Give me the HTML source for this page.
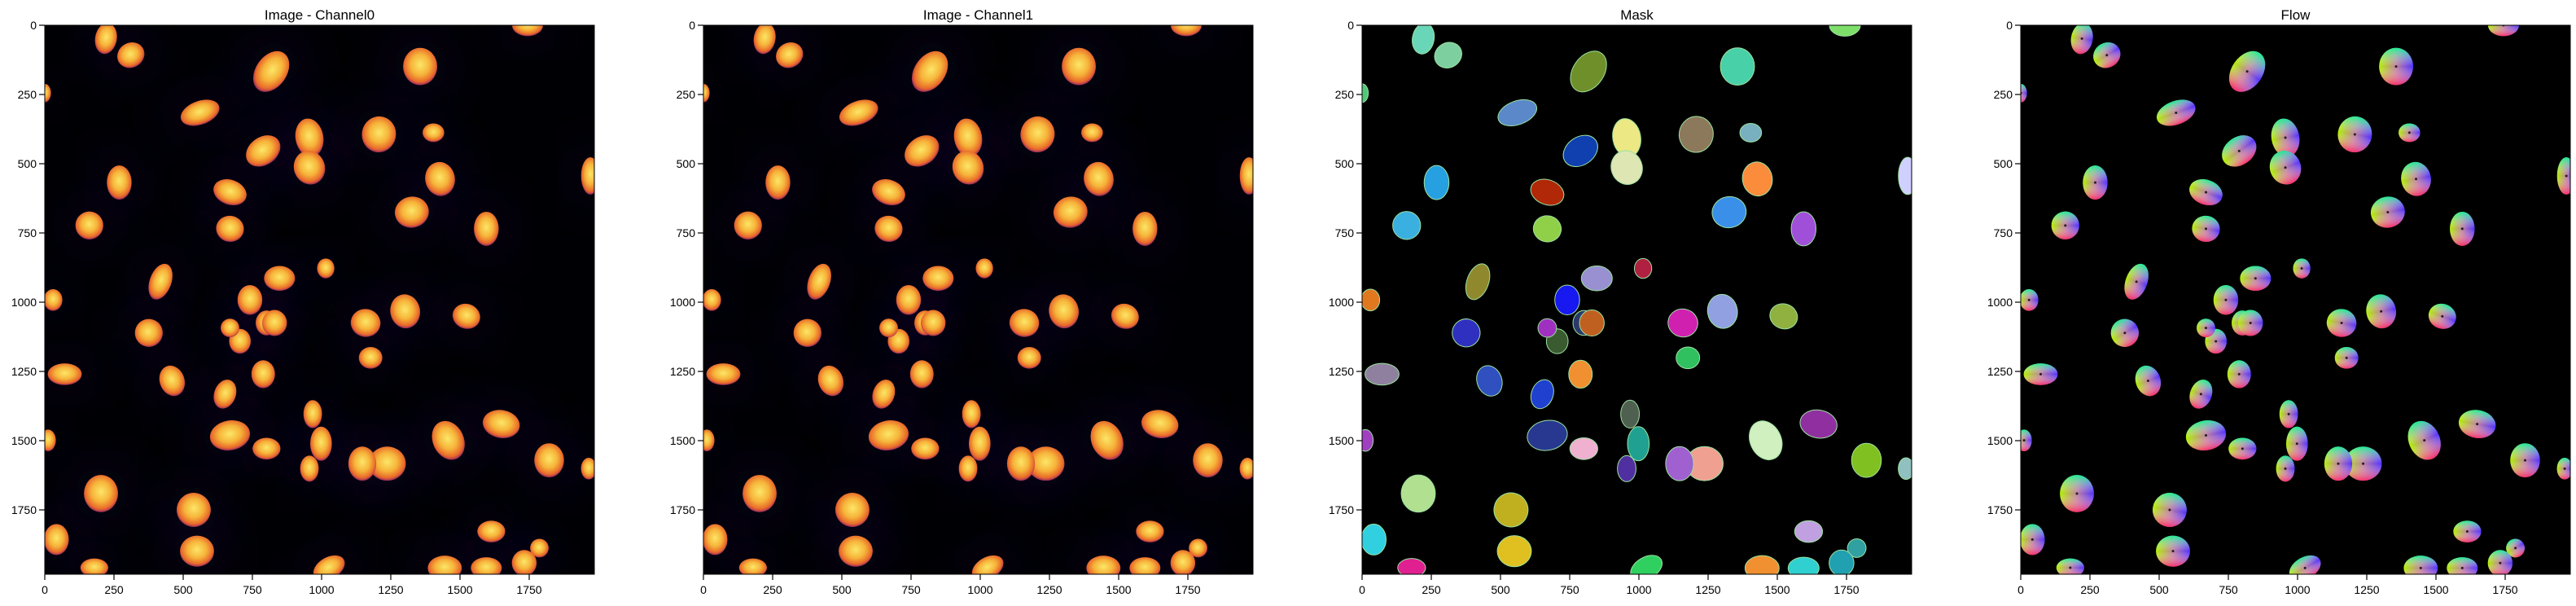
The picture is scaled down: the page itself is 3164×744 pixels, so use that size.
<!DOCTYPE html>
<html><head><meta charset="utf-8"><style>
html,body{margin:0;padding:0;background:#fff;}
body{width:3164px;height:739px;position:relative;overflow:hidden;font-family:"Liberation Sans","DejaVu Sans",sans-serif;}
</style></head><body>
<svg id="fig" width="3164" height="739" xmlns="http://www.w3.org/2000/svg">
<defs>
<radialGradient id="nuc" cx="50%" cy="45%" r="55%">
<stop offset="0" stop-color="#fce667"/><stop offset="0.5" stop-color="#f6b43a"/><stop offset="0.85" stop-color="#e8682a"/><stop offset="1" stop-color="#9a2a62"/>
</radialGradient>
<linearGradient id="flowA" x1="0" y1="0" x2="1" y2="0">
<stop offset="0" stop-color="#b0f000"/><stop offset="0.5" stop-color="#c080a0"/><stop offset="1" stop-color="#5030ff"/>
</linearGradient>
<linearGradient id="flowB" x1="0" y1="0" x2="0" y2="1">
<stop offset="0" stop-color="#00ff90"/><stop offset="0.5" stop-color="#ffffff" stop-opacity="0"/><stop offset="1" stop-color="#ff2060"/>
</linearGradient>
<filter id="blur" x="-50%" y="-50%" width="200%" height="200%"><feGaussianBlur stdDeviation="30"/></filter>
</defs>
</svg>
<script>
const titles = ["Image - Channel0","Image - Channel1","Mask","Flow"];
const tickVals = [0,250,500,750,1000,1250,1500,1750];
const cx = [221,311,818,1356,1744,561,0,789,956,956,1207,1404,1971,269,669,1428,1326,669,161,1595,418,848,1015,741,801,30,705,669,830,1159,1302,1523,376,1177,789,72,460,651,968,1649,669,801,998,1458,1237,1147,956,1822,1965,12,203,538,42,550,179,1613,1787,1732,1595,1027,1445];
const cy = [48,108,167,149,0,316,245,454,406,514,394,388,544,568,603,555,675,735,723,735,926,914,878,992,1075,992,1141,1093,1075,1075,1033,1051,1111,1201,1260,1260,1284,1332,1404,1440,1481,1529,1511,1499,1583,1583,1601,1571,1601,1499,1691,1750,1857,1899,1959,1828,1888,1942,1960,1960,1960];
const rx = [35,45,50,55,50,65,20,60,45,50,55,35,30,40,55,48,55,45,45,40,35,50,28,40,35,30,35,30,40,48,48,45,45,38,38,55,40,35,30,60,65,45,35,50,60,45,30,48,25,25,55,55,40,55,45,45,30,40,50,55,55];
const ry = [50,40,72,60,35,38,30,45,62,55,58,30,60,55,40,55,50,42,45,55,60,40,32,48,40,35,40,30,42,45,55,40,45,35,45,35,50,48,45,45,48,35,55,65,55,55,42,55,35,35,60,55,50,50,30,35,30,42,35,35,40];
const angle = [10,-30,35,0,0,-20,0,-35,-10,-20,10,0,0,0,20,-10,-10,10,0,0,20,0,0,0,0,0,0,0,0,10,-10,20,-30,0,0,0,-20,20,0,10,-10,0,0,-25,0,0,0,0,0,0,0,10,0,0,0,0,-30,0,0,-30,0];
const maskColors = ["#6ad6b8","#7ecfa0","#6f8f2a","#48d0a8","#7ee06a","#5a88c8","#50c878","#1040b0","#ece884","#dee6b4","#8c785a","#78b0c0","#d0d0ff","#26a0e0","#b02808","#fa8c3c","#3a90e8","#90d048","#3ab0e0","#a050d8","#90882c","#9890d0","#b02040","#1818f0","#2a3a6a","#e07820","#3a5a30","#a030c0","#c06020","#d020b0","#90a0e0","#90b040","#3030c0","#30c060","#f09030","#9080a0","#3050c0","#2040d0","#506050","#9030a0","#283890","#f0b0d0","#20a090","#d0f0c0","#f0a090","#a060d0","#5030a0","#80c020","#90c0c0","#a040c0","#b0e090","#c0b020","#30d0e0","#e0c020","#e02090","#c0a0e0","#30a0a0","#20a0b0","#30d0d0","#30d060","#f09030"];
const X0=55, Y0=31, W=675, H=674, PITCH=809, SC=0.34, GROW=1.12;
const NS="http://www.w3.org/2000/svg";
const fig=document.getElementById('fig');
function el(t,a,p){const e=document.createElementNS(NS,t);for(const k in a)e.setAttribute(k,a[k]);(p||fig).appendChild(e);return e;}
function sx(p,v){return X0+p*PITCH+v*SC;}
function sy(v){return Y0+v*SC;}
for(let p=0;p<4;p++){
  const g=el('g',{});
  
  
  const cp=el('clipPath',{id:'cp'+p},g);
  el('rect',{x:X0+p*PITCH,y:Y0,width:W,height:H},cp);
  const bg=el('rect',{x:X0+p*PITCH,y:Y0,width:W,height:H,fill:p<2?'#000004':'#000000'},g);
  
  
  const ig=el('g',{'clip-path':'url(#cp'+p+')'},g);
  if(p<2){
    for(let i=0;i<cx.length;i++){
      const c=el('ellipse',{cx:sx(p,cx[i]),cy:sy(cy[i]),rx:rx[i]*SC*2.0,ry:ry[i]*SC*1.8,fill:'#1e0a45',opacity:'0.35',filter:'url(#blur)',transform:`rotate(${angle[i]} ${sx(p,cx[i])} ${sy(cy[i])})`},ig);
      
      
    }
  }
  for(let i=0;i<cx.length;i++){
    const X=sx(p,cx[i]),Y=sy(cy[i]);
    const tr=`rotate(${angle[i]} ${X} ${Y})`;
    const RX=rx[i]*SC*GROW, RY=ry[i]*SC*GROW;
    let e;
    if(p<2){ e=el('ellipse',{cx:X,cy:Y,rx:RX,ry:RY,fill:'url(#nuc)',transform:tr},ig);}
    else if(p==2){ e=el('ellipse',{cx:X,cy:Y,rx:RX,ry:RY,fill:maskColors[i],stroke:'#9be0a0','stroke-width':1,transform:tr},ig);}
    else { const fg=el('g',{},ig);
      e=el('ellipse',{cx:X,cy:Y,rx:RX,ry:RY,fill:'url(#flowA)',transform:tr},fg);
      el('ellipse',{cx:X,cy:Y,rx:RX,ry:RY,fill:'url(#flowB)',opacity:0.85,transform:tr},fg);
      el('circle',{cx:X,cy:Y,r:1.5,fill:'#202020'},fg);}
    
    
  }
  el('rect',{x:X0+p*PITCH,y:Y0,width:W,height:H,fill:'none',stroke:'#000','stroke-width':1},g);
  const t=el('text',{x:X0+p*PITCH+W/2,y:24,'text-anchor':'middle','font-size':17,fill:'#000'},g);
  t.textContent=titles[p];
  
  
  for(const v of tickVals){
    const x=sx(p,v), y=sy(v);
    el('line',{x1:x,y1:Y0+H,x2:x,y2:Y0+H+7,stroke:'#000','stroke-width':1.2},g);
    const xl=el('text',{x:x,y:Y0+H+24,'text-anchor':'middle','font-size':14,fill:'#000'},g);
    xl.textContent=v;
    
    
    el('line',{x1:X0+p*PITCH-7,y1:y,x2:X0+p*PITCH,y2:y,stroke:'#000','stroke-width':1.2},g);
    const yl=el('text',{x:X0+p*PITCH-10,y:y+5,'text-anchor':'end','font-size':14,fill:'#000'},g);
    yl.textContent=v;
    
    
  }
}
</script>
</body></html>
